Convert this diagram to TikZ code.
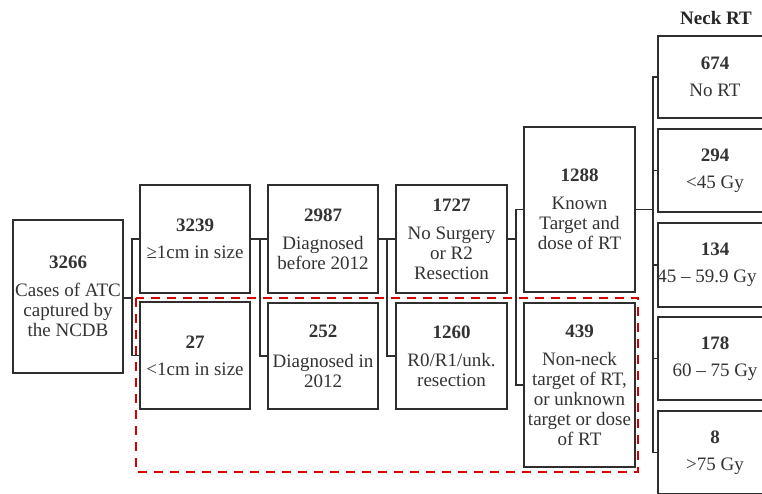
\documentclass[tikz,border=0pt]{standalone}
\usepackage{fontspec}
\setmainfont{Liberation Serif}
\tikzset{
  box/.style={draw=black!82, line width=1.4pt, fill=white, inner sep=0pt, outer sep=0pt,
    align=center, font=\fontsize{19}{20}\selectfont, text=black!80},
  conn/.style={draw=black!82, line width=1.4pt},
  reddash/.style={draw=red!85!black, line width=2.6pt, dash pattern=on 9pt off 7pt},
  ttl/.style={font=\fontsize{19}{20}\selectfont\bfseries, text=black!85, inner sep=0pt},
}
\newcommand{\num}[1]{\textbf{#1}}
\begin{document}
\begin{tikzpicture}[x=1pt,y=-1pt]
\useasboundingbox (0,0) rectangle (762,493);
% column 1
\node[box, minimum width=110pt, minimum height=153pt] (A) at (68,296.5)
  {\num{3266}\\[8pt]Cases of ATC\\captured by\\the NCDB};
% column 2
\node[box, minimum width=110pt, minimum height=108pt] (n3239) at (195,239)
  {\num{3239}\\[7pt]≥1cm in size};
\node[box, minimum width=110pt, minimum height=107pt] (n27) at (195,355.5)
  {\num{27}\\[7pt]<1cm in size};
% column 3
\node[box, minimum width=110pt, minimum height=108pt] (n2987) at (323,239)
  {\num{2987}\\[8pt]Diagnosed\\before 2012};
\node[box, minimum width=110pt, minimum height=106pt] (n252) at (323,356)
  {\num{252}\\[10pt]Diagnosed in\\2012};
% column 4
\node[box, minimum width=111pt, minimum height=108pt] (n1727) at (451.5,239)
  {\num{1727}\\[8pt]No Surgery\\or R2\\Resection};
\node[box, minimum width=111pt, minimum height=106pt] (n1260) at (451.5,356)
  {\num{1260}\\[8pt]R0/R1/unk.\\resection};
% column 5
\node[box, minimum width=111pt, minimum height=165pt] (n1288) at (579.5,209.5)
  {\num{1288}\\[8pt]Known\\Target and\\dose of RT};
\node[box, minimum width=111pt, minimum height=164pt] (n439) at (579.5,385)
  {\num{439}\\[8pt]Non-neck\\target of RT,\\or unknown\\target or dose\\of RT};
% column 6
\node[ttl] (title) at (716,18) {Neck RT};
\node[box, minimum width=114pt, minimum height=82pt] (n674) at (715,77)
  {\num{674}\\[7pt]No RT};
\node[box, minimum width=114pt, minimum height=83pt] (n294) at (715,170.5)
  {\num{294}\\[7pt]<45 Gy};
\node[box, minimum width=114pt, minimum height=84pt] (n134) at (715,265)
  {\num{134}\\[7pt]\hspace*{-16pt}45 – 59.9 Gy};
\node[box, minimum width=114pt, minimum height=83pt] (n178) at (715,358.5)
  {\num{178}\\[7pt]60 – 75 Gy};
\node[box, minimum width=114pt, minimum height=83pt] (n8) at (715,452.5)
  {\num{8}\\[7pt]>75 Gy};
% connectors
\coordinate (b1) at (132,298);
\draw[conn] (A.east |- b1) -- (b1);
\draw[conn] (n3239.west) -| (b1) |- (n27.west);
\coordinate (b2) at (260,239);
\draw[conn] (n3239.east) -- (n2987.west);
\draw[conn] (b2) |- (n252.west);
\coordinate (b3) at (387,239);
\draw[conn] (n2987.east) -- (n1727.west);
\draw[conn] (b3) |- (n1260.west);
\coordinate (b4) at (516,239);
\draw[conn] (n1727.east) -- (b4);
\draw[conn] (n1288.west) -| (b4) |- (n439.west);
\coordinate (b5) at (653,209.5);
\draw[conn] (n1288.east) -- (b5);
\draw[conn] (n674.west) -| (b5) |- (n8.west);
\draw[conn] (b5 |- n294.west) -- (n294.west);
\draw[conn] (b5 |- n134.west) -- (n134.west);
\draw[conn] (b5 |- n178.west) -- (n178.west);
% red dashed group
\coordinate (r1) at (136,298);
\coordinate (r2) at (638,472);
\draw[reddash] (r1) rectangle (r2);
\end{tikzpicture}
\end{document}
